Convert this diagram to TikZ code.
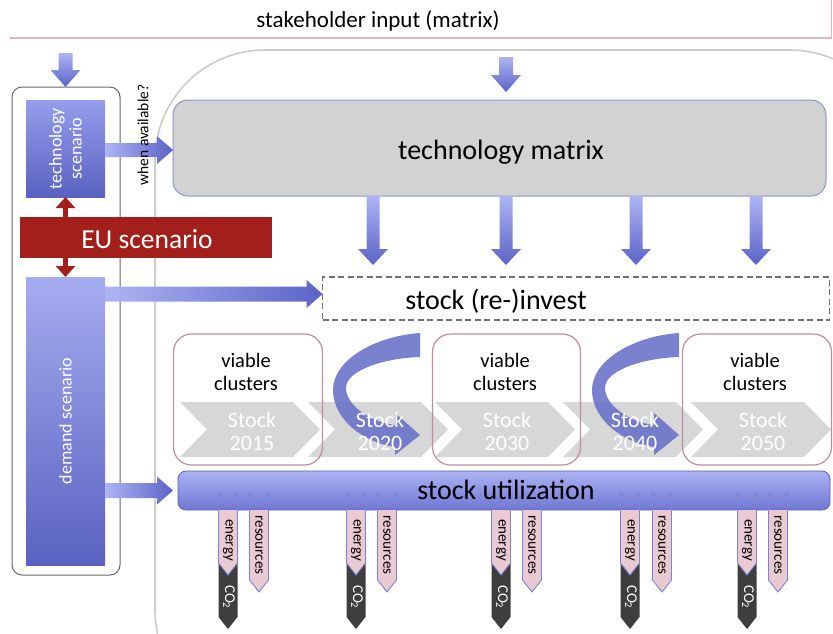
\documentclass[tikz,border=0pt]{standalone}
\usepackage{fontspec}
\setmainfont{Carlito}
\usetikzlibrary{arrows.meta,calc}
\definecolor{arlight}{HTML}{AEB4F3}
\definecolor{ardark}{HTML}{5B63C7}
\definecolor{boxtop}{HTML}{959DEC}
\definecolor{boxbot}{HTML}{5A62C2}
\definecolor{eured}{HTML}{A21F1B}
\definecolor{tmfill}{HTML}{D2D2D2}
\definecolor{tmline}{HTML}{8D96CC}
\definecolor{pinkline}{HTML}{E2B4C4}
\definecolor{regionline}{HTML}{CCCCCC}
\definecolor{lbline}{HTML}{666666}
\definecolor{dashline}{HTML}{707070}
\definecolor{vcline}{HTML}{BC8EA2}
\definecolor{chevgray}{HTML}{D7D7D7}
\definecolor{curvecol}{HTML}{6870C8}
\definecolor{sutop}{HTML}{ACB2F3}
\definecolor{subot}{HTML}{6E76D2}
\definecolor{suline}{HTML}{5A62B5}
\definecolor{respink}{HTML}{E9C9D2}
\definecolor{resline}{HTML}{7C84D2}
\definecolor{cotwo}{HTML}{3E3E3E}

\newcommand\blkdown[5]{%
 \shade[top color=arlight, bottom color=ardark] let \p1=#1, \p2=#2 in
 ({\x1-#3},\y1) -- ({\x1+#3},\y1) -- ({\x1+#3},{\y2+#5}) -- ({\x1+#4},{\y2+#5}) -- (\x1,\y2) -- ({\x1-#4},{\y2+#5}) -- ({\x1-#3},{\y2+#5}) -- cycle;}
\newcommand\blkright[5]{%
 \shade[left color=arlight, right color=ardark] let \p1=#1, \p2=#2 in
 (\x1,{\y1+#3}) -- ({\x2-#5},{\y1+#3}) -- ({\x2-#5},{\y1+#4}) -- (\x2,\y1) -- ({\x2-#5},{\y1-#4}) -- ({\x2-#5},{\y1-#3}) -- (\x1,{\y1-#3}) -- cycle;}

\newcommand\stockchev[3]{% #1 center x, #2 label, #3 name
 \fill[chevgray] (#1-72,402) -- (#1+41,402) -- (#1+68,429.5) -- (#1+41,457) -- (#1-72,457) -- (#1-45,429.5) -- cycle;
}
\newcommand\stocktext[3]{%
 \node[white, align=center, font=\fontsize{22}{23}\selectfont] (#3) at (#1,431) {Stock\\#2};
}
\newcommand\curvearrow{%
 \fill[curvecol, opacity=0.88] (420,333) .. controls (375,336) and (333,360) .. (333,390)
  .. controls (333,420) and (365,443) .. (395,447) -- (395,455) -- (420,435) -- (395,413) -- (395,425)
  .. controls (370,422) and (346,405) .. (346,388) .. controls (346,370) and (385,358) .. (420,357) -- cycle;
}
\newcommand\outgroup[3]{% #1 energy x, #2 resources x, #3 id
 \fill[cotwo] (#1-9.5,561) -- (#1,572) -- (#1+9.5,561) -- (#1+9.5,617) -- (#1,629) -- (#1-9.5,617) -- cycle;
 \begin{scope}
 \clip (0,510) rectangle (833,633);
 \fill[respink] (#1-9.5,493) -- (#1,502) -- (#1+9.5,493) -- (#1+9.5,563) -- (#1,575) -- (#1-9.5,563) -- cycle;
 \fill[respink] (#2-9.5,493) -- (#2,502) -- (#2+9.5,493) -- (#2+9.5,580) -- (#2,592) -- (#2-9.5,580) -- cycle;
 \end{scope}
 \draw[resline, line width=0.9pt, line join=miter] (#1-9.5,493) -- (#1,502) -- (#1+9.5,493) -- (#1+9.5,563) -- (#1,575) -- (#1-9.5,563) -- cycle;
 \draw[resline, line width=0.9pt, line join=miter] (#2-9.5,493) -- (#2,502) -- (#2+9.5,493) -- (#2+9.5,580) -- (#2,592) -- (#2-9.5,580) -- cycle;
 \node[rotate=-90, font=\fontsize{15}{16}\selectfont] (en#3) at (#1,540) {energy};
 \node[rotate=-90, font=\fontsize{15}{16}\selectfont] (re#3) at (#2,545) {resources};
 \node[rotate=-90, white, font=\fontsize{15}{16}\selectfont] (co#3) at (#1+1,597) {CO\textsubscript{2}};
}

\begin{document}
\begin{tikzpicture}[x=1pt,y=-1pt, every node/.style={inner sep=0pt, outer sep=0pt}]
\useasboundingbox (0,0) rectangle (833,633);
\fill[white] (0,0) rectangle (833,633);

% title
\node[font=\fontsize{23}{26}\selectfont] (title) at (378,21) {stakeholder input (matrix)};
\draw[pinkline, line width=1.3pt] (10,38) -- (831.5,38) -- (831.5,0);

% big region outline
\begin{scope}
\clip (0,0) rectangle (833,633);
\draw[regionline, line width=1.6pt, rounded corners=110pt] (155,50) rectangle (900,720);
\end{scope}

\coordinate (in1) at (65.5,53);
\coordinate (in2) at (506,57);
\coordinate (c1) at (373,0);
\coordinate (c2) at (506,0);
\coordinate (c3) at (636,0);
\coordinate (c4) at (756,0);
\coordinate (ya) at (0,150);
\coordinate (yb) at (0,294);

% left group
\node[draw=lbline, line width=1pt, rounded corners=10pt, minimum width=108pt, minimum height=488pt] (lb) at (66,331) {};
\node[top color=boxtop, bottom color=boxbot, minimum width=79pt, minimum height=97pt] (ts) at (65.5,148.5) {};
\node[rotate=90, align=center, white, font=\fontsize{18}{20}\selectfont] (tst) at (ts.center) {technology\\scenario};
\node[top color=boxtop!85!white, bottom color=boxbot, minimum width=79pt, minimum height=288pt] (ds) at (65.5,421) {};
\node[rotate=90, white, font=\fontsize{18}{20}\selectfont] (dst) at (65.5,421) {demand scenario};
\draw[eured, line width=5pt, {Triangle[width=19pt,length=11pt]}-{Triangle[width=19pt,length=11pt]}] (ts.south) -- (ds.north);
\node[fill=eured, minimum width=252pt, minimum height=41pt] (eu) at (146,237.5) {};
\node[white, font=\fontsize{27.5}{30}\selectfont] (eut) at (147,239) {EU scenario};

% technology matrix
\node[fill=tmfill, draw=tmline, line width=1pt, rounded corners=15pt, minimum width=653pt, minimum height=96pt] (tm) at (499.5,148) {};
\node[font=\fontsize{28}{30}\selectfont] (tmt) at (501,152) {technology matrix};

% stock (re-)invest
\node[draw=dashline, line width=1.5pt, dash pattern=on 6pt off 3.5pt, minimum width=507pt, minimum height=43pt] (sr) at (576,298.5) {};
\node[font=\fontsize{28}{30}\selectfont] (srt) at (496,301) {stock (re-)invest};

% arrows
\blkdown{(in1)}{(lb.north)}{7pt}{15pt}{17pt}
\blkdown{(in2)}{($(tm.north -| in2)+(0,-8)$)}{7pt}{15pt}{17pt}
\blkdown{(tm.south -| c1)}{($(sr.north -| c1)+(0,-12)$)}{6.5pt}{15pt}{16pt}
\blkdown{(tm.south -| c2)}{($(sr.north -| c2)+(0,-12)$)}{6.5pt}{15pt}{16pt}
\blkdown{(tm.south -| c3)}{($(sr.north -| c3)+(0,-12)$)}{6.5pt}{15pt}{16pt}
\blkdown{(tm.south -| c4)}{($(sr.north -| c4)+(0,-12)$)}{6.5pt}{15pt}{16pt}
\blkright{(ts.east |- ya)}{(tm.west |- ya)}{7pt}{14pt}{16pt}
\blkright{(ds.east |- yb)}{(sr.west |- yb)}{7.5pt}{14pt}{16pt}

% chevrons
\stockchev{252}{2015}{s1}
\stockchev{380}{2020}{s2}
\stockchev{507}{2030}{s3}
\stockchev{635}{2040}{s4}
\stockchev{763}{2050}{s5}

% curved arrows
\curvearrow
\begin{scope}[xshift=259pt]
\curvearrow
\end{scope}

\stocktext{252}{2015}{st1}
\stocktext{380}{2020}{st2}
\stocktext{507}{2030}{st3}
\stocktext{635}{2040}{st4}
\stocktext{763}{2050}{st5}

% viable clusters
\node[draw=vcline, line width=1.2pt, rounded corners=18pt, minimum width=149pt, minimum height=131pt] (vc1) at (248,399.5) {};
\node[draw=vcline, line width=1.2pt, rounded corners=18pt, minimum width=148pt, minimum height=131pt] (vc2) at (506.5,399.5) {};
\node[draw=vcline, line width=1.2pt, rounded corners=18pt, minimum width=149pt, minimum height=131pt] (vc3) at (757,399.5) {};
\node[align=center, font=\fontsize{20.5}{23}\selectfont] (vt1) at (246,372) {viable\\clusters};
\node[align=center, font=\fontsize{20.5}{23}\selectfont] (vt2) at (505,372) {viable\\clusters};
\node[align=center, font=\fontsize{20.5}{23}\selectfont] (vt3) at (755,372) {viable\\clusters};

% stock utilization
\node[top color=sutop, bottom color=subot, draw=suline, line width=0.8pt, rounded corners=8pt, minimum width=652pt, minimum height=39pt] (su) at (504,490.5) {};
\blkright{(ds.east |- su.west)}{($(su.west)+(-5,0)$)}{7.5pt}{14pt}{16pt}

% outputs
\outgroup{228}{259}{1}
\outgroup{356}{387}{2}
\outgroup{501}{532}{3}
\outgroup{630}{662}{4}
\outgroup{747}{778}{5}

\node[font=\fontsize{28}{30}\selectfont] (sut) at (506,490) {stock utilization};

% when available
\node[rotate=90, font=\fontsize{15.5}{17}\selectfont] (wa) at (143,135) {when available?};
\end{tikzpicture}
\end{document}
